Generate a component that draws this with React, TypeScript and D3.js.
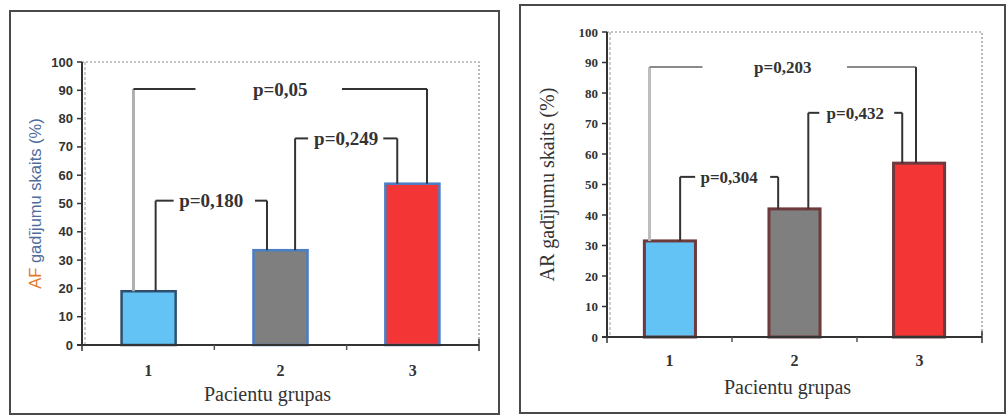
import * as d3 from "d3";

const groups = ["1", "2", "3"];
const yTicks = [0, 10, 20, 30, 40, 50, 60, 70, 80, 90, 100];

const afValues = [19, 33.5, 57];
const arValues = [31.5, 42, 57];

const afPLabels = ["p=0,180", "p=0,249", "p=0,05"];
const afPLevels = [51, 73, 90.5];
const arPLabels = ["p=0,304", "p=0,432", "p=0,203"];
const arPLevels = [52.5, 73.5, 88.5];

const barColors = ["#63c3f4", "#7f7f7f", "#f43535"];

interface Bracket {
  from: number;
  to: number;
  fromOff: number; // fraction of bar width from bar centre
  toOff: number;
  leftStub: number;
  rightStub: number;
  leftColor: string;
  lineColor: string;
}

interface PanelProps {
  frame: [number, number, number, number];
  plot: [number, number, number, number];
  values: number[];
  pLabels: string[];
  pLevels: number[];
  brackets: Bracket[];
  barStroke: string[];
  barStrokeWidth: number;
  tickFont: string;
  tickSize: number;
  pSize: number;
  labelGap: number;
  xTitleGap: number;
  xTitleShift: number;
  title: React.ReactNode;
  titleX: number;
  titleFont: string;
  titleSize: number;
}

const Panel: React.FC<PanelProps> = ({
  frame,
  plot,
  values,
  pLabels,
  pLevels,
  brackets,
  barStroke,
  barStrokeWidth,
  tickFont,
  tickSize,
  pSize,
  labelGap,
  xTitleGap,
  xTitleShift,
  title,
  titleX,
  titleFont,
  titleSize,
}) => {
  const [left, top, right, bottom] = plot;
  const x = d3.scaleBand(groups, [left, right]).paddingInner(0.59).paddingOuter(0.3);
  const band = d3.scaleBand(groups, [left, right]);
  const y = d3.scaleLinear([0, 100], [bottom, top]);
  const bw = x.bandwidth();
  const cx = (i: number) => (x(groups[i]) ?? 0) + bw / 2;

  return (
    <g>
      <rect
        x={frame[0]}
        y={frame[1]}
        width={frame[2] - frame[0]}
        height={frame[3] - frame[1]}
        fill="white"
        stroke="#4a4a4a"
        strokeWidth={2}
      />
      {/* plot box, dotted */}
      <rect
        x={left}
        y={top}
        width={right - left}
        height={bottom - top}
        fill="none"
        stroke="#8a8a8a"
        strokeWidth={1.2}
        strokeDasharray="2,2"
      />
      <line x1={left + 3} x2={left + 3} y1={top} y2={bottom} stroke="#9a9a9a" strokeDasharray="3,2" />
      {/* bars */}
      {values.map((v, i) => (
        <rect
          key={i}
          x={x(groups[i])}
          y={y(v)}
          width={bw}
          height={y(0) - y(v)}
          fill={barColors[i]}
          stroke={barStroke[i]}
          strokeWidth={barStrokeWidth}
        />
      ))}
      {/* axes */}
      <line x1={left} x2={left} y1={top} y2={bottom} stroke="#333" strokeWidth={2} />
      <line x1={left - 5} x2={right} y1={bottom} y2={bottom} stroke="#333" strokeWidth={2} />
      <line x1={right} x2={right} y1={bottom - 6} y2={bottom + 6} stroke="#333" strokeWidth={1.5} />
      {groups.slice(1).map((g) => (
        <line key={g} x1={band(g)} x2={band(g)} y1={bottom} y2={bottom + 5} stroke="#555" strokeWidth={1.5} />
      ))}
      <line x1={left} x2={left} y1={bottom} y2={bottom + 6} stroke="#333" strokeWidth={1.5} />
      {yTicks.map((t) => (
        <g key={t}>
          <line x1={left - 5} x2={left} y1={y(t)} y2={y(t)} stroke="#333" strokeWidth={1.5} />
          <text
            x={left - 9}
            y={y(t)}
            dy="0.35em"
            textAnchor="end"
            fontFamily={tickFont}
            fontWeight="bold"
            fontSize={tickSize}
            fill="#333"
          >
            {t}
          </text>
        </g>
      ))}
      {groups.map((g) => (
        <text
          key={g}
          x={(band(g) ?? 0) + band.bandwidth() / 2}
          y={bottom + labelGap}
          dy="0.35em"
          textAnchor="middle"
          fontFamily="Liberation Serif"
          fontWeight="bold"
          fontSize={16}
          fill="#333"
        >
          {g}
        </text>
      ))}
      <text
        x={(left + right) / 2 + xTitleShift}
        y={bottom + xTitleGap}
        dy="0.35em"
        textAnchor="middle"
        fontFamily="Liberation Serif"
        fontSize={20}
        fill="#333"
      >
        Pacientu grupas
      </text>
      <text
        transform={`translate(${titleX},${(top + bottom) / 2}) rotate(-90)`}
        textAnchor="middle"
        dy="0.35em"
        fontFamily={titleFont}
        fontSize={titleSize}
        fill="#333"
      >
        {title}
      </text>
      {/* significance brackets */}
      {brackets.map((b, k) => {
        const x1 = cx(b.from) + b.fromOff * bw;
        const x2 = cx(b.to) + b.toOff * bw;
        const yl = y(pLevels[k]);
        return (
          <g key={k}>
            <line x1={x1} x2={x1} y1={y(values[b.from])} y2={yl} stroke={b.leftColor} strokeWidth={k === 2 ? 3 : 2} />
            <line x1={x1} x2={x1 + b.leftStub} y1={yl} y2={yl} stroke={b.lineColor} strokeWidth={2} />
            <line x1={x2 - b.rightStub} x2={x2} y1={yl} y2={yl} stroke={b.lineColor} strokeWidth={2} />
            <line x1={x2} x2={x2} y1={yl} y2={y(values[b.to])} stroke="#333" strokeWidth={2} />
            <text
              x={(x1 + x2) / 2}
              y={yl}
              dy="0.35em"
              textAnchor="middle"
              fontFamily="Liberation Serif"
              fontWeight="bold"
              fontSize={pSize}
              fill="#333"
            >
              {pLabels[k]}
            </text>
          </g>
        );
      })}
    </g>
  );
};

const App = () => {
  return (
    <svg width={1008} height={416} style={{ position: "absolute", left: 0, top: 0 }}>
      <rect width={1008} height={416} fill="white" />
      <Panel
        frame={[10, 11, 499, 414]}
        plot={[82, 62, 479, 345]}
        values={afValues}
        pLabels={afPLabels}
        pLevels={afPLevels}
        brackets={[
          { from: 0, to: 1, fromOff: 0.13, toOff: -0.25, leftStub: 18, rightStub: 12, leftColor: "#333", lineColor: "#333" },
          { from: 1, to: 2, fromOff: 0.27, toOff: -0.28, leftStub: 13, rightStub: 14, leftColor: "#333", lineColor: "#333" },
          { from: 0, to: 2, fromOff: -0.28, toOff: 0.27, leftStub: 62, rightStub: 85, leftColor: "#b0b0b0", lineColor: "#333" },
        ]}
        barStroke={["#2f4f70", "#4a7fc6", "#4a7fc6"]}
        barStrokeWidth={2.5}
        tickFont="Liberation Sans Narrow, Liberation Sans"
        tickSize={13}
        pSize={19}
        labelGap={25}
        xTitleGap={49}
        xTitleShift={-13}
        title={
          <>
            <tspan fill="#e07a2c">AF</tspan>
            <tspan fill="#4f6d9c"> gadījumu skaits (%)</tspan>
          </>
        }
        titleX={35}
        titleFont="Liberation Sans"
        titleSize={16.5}
      />
      <Panel
        frame={[520, 5, 1005, 413]}
        plot={[607, 32, 982, 337]}
        values={arValues}
        pLabels={arPLabels}
        pLevels={arPLevels}
        brackets={[
          { from: 0, to: 1, fromOff: 0.2, toOff: -0.32, leftStub: 15, rightStub: 8, leftColor: "#333", lineColor: "#333" },
          { from: 1, to: 2, fromOff: 0.27, toOff: -0.33, leftStub: 11, rightStub: 8, leftColor: "#333", lineColor: "#333" },
          { from: 0, to: 2, fromOff: -0.4, toOff: -0.06, leftStub: 53, rightStub: 69, leftColor: "#bdbdbd", lineColor: "#8a8a8a" },
        ]}
        barStroke={["#6e3a3c", "#6e3a3c", "#6e3a3c"]}
        barStrokeWidth={3}
        tickFont="Liberation Serif"
        tickSize={13}
        pSize={17}
        labelGap={23}
        xTitleGap={50}
        xTitleShift={-7}
        title="AR gadījumu skaits (%)"
        titleX={547}
        titleFont="Liberation Serif"
        titleSize={20}
      />
    </svg>
  );
};

export default App;
